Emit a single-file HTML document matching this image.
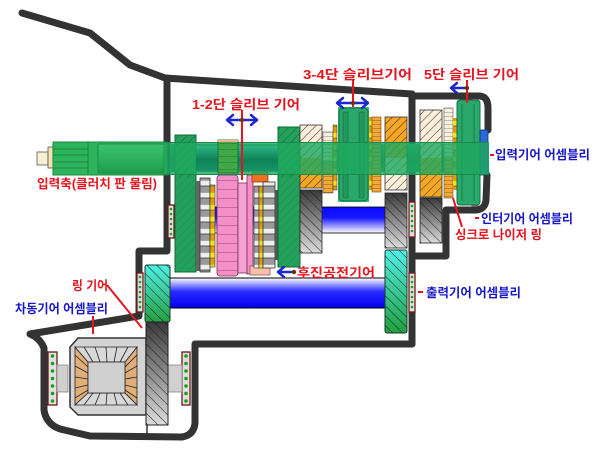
<!DOCTYPE html>
<html><head><meta charset="utf-8">
<style>
html,body{margin:0;padding:0;background:#fff;}
svg{display:block;}
text{font-family:"Liberation Sans","Noto Sans CJK KR",sans-serif;font-weight:bold;}
</style></head><body>
<svg width="612" height="452" viewBox="0 0 612 452" xmlns="http://www.w3.org/2000/svg">
<defs>
<pattern id="hF" patternUnits="userSpaceOnUse" width="6" height="6" patternTransform="rotate(45)"><line x1="0" y1="0" x2="0" y2="6" stroke="#3a2a10" stroke-width="1"/></pattern>
<pattern id="hFg" patternUnits="userSpaceOnUse" width="6" height="6" patternTransform="rotate(45)"><line x1="0" y1="0" x2="0" y2="6" stroke="#0f6a35" stroke-width="1"/></pattern>
<pattern id="hB" patternUnits="userSpaceOnUse" width="7" height="7" patternTransform="rotate(-45)"><line x1="0" y1="0" x2="0" y2="7" stroke="#1a1a1a" stroke-width="1"/></pattern>
<pattern id="stGW" patternUnits="userSpaceOnUse" width="20" height="12"><rect width="20" height="6" fill="#eeeeee"/><rect y="6" width="20" height="6" fill="#9a9a9a"/><line x1="0" y1="0" x2="20" y2="0" stroke="#333" stroke-width="0.8"/><line x1="0" y1="6" x2="20" y2="6" stroke="#333" stroke-width="0.8"/></pattern>
<pattern id="stYO" patternUnits="userSpaceOnUse" width="20" height="12"><rect width="20" height="6" fill="#f8e020"/><rect y="6" width="20" height="6" fill="#e09a10"/><line x1="0" y1="0" x2="20" y2="0" stroke="#333" stroke-width="0.6"/><line x1="0" y1="6" x2="20" y2="6" stroke="#333" stroke-width="0.6"/></pattern>
<pattern id="stC" patternUnits="userSpaceOnUse" width="20" height="4"><rect width="20" height="4" fill="#fbf0dc"/><line x1="0" y1="0" x2="20" y2="0" stroke="#666" stroke-width="0.7"/></pattern>
<pattern id="stO" patternUnits="userSpaceOnUse" width="20" height="4"><rect width="20" height="4" fill="#f4a838"/><line x1="0" y1="0" x2="20" y2="0" stroke="#6a4010" stroke-width="0.7"/></pattern>
<pattern id="stPk" patternUnits="userSpaceOnUse" width="20" height="9"><rect width="20" height="9" fill="#f490c8"/><line x1="0" y1="0" x2="20" y2="0" stroke="#7a2a5a" stroke-width="0.8"/></pattern>
<pattern id="stGr" patternUnits="userSpaceOnUse" width="20" height="6.5"><rect width="20" height="6.5" fill="#40a848"/><line x1="0" y1="0" x2="20" y2="0" stroke="#1a6a2a" stroke-width="0.8"/></pattern>
<linearGradient id="gGrey" x1="0" y1="0" x2="0" y2="1"><stop offset="0" stop-color="#3a3a3a"/><stop offset="1" stop-color="#dcdcdc"/></linearGradient>
<linearGradient id="gCyan" x1="0" y1="0" x2="0" y2="1"><stop offset="0" stop-color="#50f0e8"/><stop offset="1" stop-color="#22a040"/></linearGradient>
<linearGradient id="gBlueDown" x1="0" y1="0" x2="0" y2="1"><stop offset="0" stop-color="#0a0aff"/><stop offset="0.4" stop-color="#1515ff"/><stop offset="1" stop-color="#ffffff"/></linearGradient>
<linearGradient id="gBlueUp" x1="0" y1="0" x2="0" y2="1"><stop offset="0" stop-color="#ffffff"/><stop offset="0.45" stop-color="#2a2aff"/><stop offset="1" stop-color="#0000ee"/></linearGradient>
<linearGradient id="gShaft" x1="0" y1="0" x2="0" y2="1"><stop offset="0" stop-color="#2fb88a"/><stop offset="0.55" stop-color="#0b7a58"/><stop offset="1" stop-color="#17906a"/></linearGradient>
<linearGradient id="gLS" x1="0" y1="0" x2="0" y2="1"><stop offset="0" stop-color="#3cc070"/><stop offset="0.5" stop-color="#2db35c"/><stop offset="1" stop-color="#209a4a"/></linearGradient>
</defs>

<!-- countershafts -->
<rect x="196" y="207" width="189" height="26" fill="url(#gBlueDown)" stroke="#000" stroke-width="0.8"/>
<rect x="168" y="278" width="219" height="30" fill="url(#gBlueUp)" stroke="#000" stroke-width="1"/>

<!-- housing -->
<g fill="none" stroke="#333" stroke-width="7" stroke-linejoin="round" stroke-linecap="round">
<path d="M22,13 L90,33 L130,65 L165,78 L412,94"/>
<path d="M167,78 L167,251 L139,251 L139,316 L30,334 Q40,338 44,348 L44,410 Q46,424 60,429 L90,436 L182,437 Q194,435 195,423 L195,344 L412,344"/>
<path d="M412,94 L412,344"/>
<path d="M412,96 L479,96 Q488,96 488,108 L488,130"/>
<path d="M487,175 L486,200 Q485,210 475,210 L446,210 L446,256 L412,256"/>
</g>
<line x1="147" y1="425" x2="147" y2="440" stroke="#333" stroke-width="1.5"/>

<!-- inner shaft -->
<rect x="170" y="144" width="319" height="28" fill="url(#gShaft)"/>

<!-- left exterior shaft -->
<rect x="37" y="152" width="11" height="13" fill="#f8f0d0" stroke="#555" stroke-width="0.8"/>
<rect x="48" y="147" width="5" height="21" fill="#f4e0b0" stroke="#555" stroke-width="0.8"/>
<rect x="53" y="142" width="114" height="33" fill="#2db35c" stroke="#1a8a40" stroke-width="1"/>
<g stroke="#1a7a3a" stroke-width="0.8"><line x1="53" y1="149" x2="88" y2="149"/><line x1="53" y1="155" x2="88" y2="155"/><line x1="53" y1="162" x2="88" y2="162"/><line x1="53" y1="168" x2="88" y2="168"/><line x1="88" y1="142" x2="88" y2="175"/></g>
<rect x="98" y="144" width="66" height="29" fill="url(#gLS)" stroke="#1a8a40" stroke-width="0.8"/>

<!-- left cluster -->
<rect x="175" y="135" width="21" height="137" fill="#24a05c" stroke="#0e6a38" stroke-width="1"/>
<rect x="175" y="135" width="21" height="43" fill="url(#hFg)"/>
<rect x="175" y="178" width="21" height="94" fill="url(#hFg)" opacity="0.35"/>
<rect x="196" y="181" width="4" height="90" fill="#666"/>
<rect x="200" y="178" width="10" height="94" fill="url(#stGW)" stroke="#333" stroke-width="0.8"/>
<rect x="210" y="185" width="5" height="82" fill="url(#stYO)" stroke="#333" stroke-width="0.6"/>
<rect x="217" y="175" width="21" height="101" rx="3" fill="url(#stPk)" stroke="#7a2a5a" stroke-width="0.8"/>
<rect x="238" y="183" width="9" height="90" fill="#f4a2d2" stroke="#7a2a5a" stroke-width="0.8"/>
<rect x="247" y="175" width="6" height="99" fill="#f490c8" stroke="#7a2a5a" stroke-width="0.8"/>
<rect x="250" y="266" width="20" height="9" fill="#f8c0a8" stroke="#7a4a3a" stroke-width="0.7"/>
<rect x="252" y="172" width="16" height="10" fill="#f07020" stroke="#8a3a00" stroke-width="0.7"/>
<rect x="254" y="186" width="5" height="82" fill="url(#stGW)" stroke="#333" stroke-width="0.6"/>
<rect x="259" y="186" width="4" height="82" fill="url(#stYO)" stroke="#333" stroke-width="0.6"/>
<rect x="263" y="182" width="12" height="86" fill="url(#stGW)" stroke="#333" stroke-width="0.8"/>
<rect x="275" y="190" width="3" height="70" fill="#555"/>
<rect x="278" y="127" width="22" height="140" fill="#24a05c" stroke="#0e6a38" stroke-width="1"/>
<rect x="278" y="127" width="22" height="50" fill="url(#hFg)"/>
<rect x="278" y="177" width="22" height="90" fill="url(#hFg)" opacity="0.35"/>

<!-- middle -->
<rect x="300" y="125" width="22" height="33" fill="#fbeedd"/>
<rect x="300" y="158" width="22" height="30" fill="#f5a623"/>
<rect x="300" y="125" width="22" height="63" fill="url(#hF)" stroke="#333" stroke-width="0.8"/>
<rect x="300" y="190" width="22" height="63" fill="url(#gGrey)" stroke="#222" stroke-width="0.8"/>
<rect x="300" y="190" width="22" height="63" fill="url(#hB)"/>
<rect x="323" y="132" width="10" height="30" fill="url(#stC)" stroke="#555" stroke-width="0.6"/>
<rect x="323" y="162" width="10" height="31" fill="url(#stO)" stroke="#555" stroke-width="0.6"/>
<rect x="333" y="125" width="4" height="65" fill="url(#stYO)" stroke="#333" stroke-width="0.5"/>
<rect x="338" y="107" width="31" height="95" fill="#3cb878"/>
<rect x="339" y="108" width="29" height="93" rx="4" fill="#2aa86c" stroke="#137040" stroke-width="1"/>
<rect x="343" y="112" width="5" height="86" fill="#22985e" stroke="#137040" stroke-width="0.6"/>
<rect x="359" y="112" width="5" height="86" fill="#22985e" stroke="#137040" stroke-width="0.6"/>
<rect x="369" y="117" width="3" height="73" fill="url(#stYO)"/>
<rect x="372" y="117" width="9" height="75" fill="url(#stO)" stroke="#6a4010" stroke-width="0.6"/>
<rect x="385" y="117" width="22" height="41" fill="#f5a623"/>
<rect x="385" y="158" width="22" height="32" fill="#fbeedd"/>
<rect x="385" y="117" width="22" height="73" fill="url(#hF)" stroke="#333" stroke-width="0.8"/>
<rect x="385" y="193" width="22" height="55" fill="url(#gGrey)" stroke="#222" stroke-width="0.8"/>
<rect x="385" y="193" width="22" height="55" fill="url(#hB)"/>
<rect x="385" y="250" width="22" height="83" rx="2" fill="url(#gCyan)" stroke="#1a3a2a" stroke-width="1"/>
<rect x="385" y="250" width="22" height="83" fill="url(#hB)"/>
<rect x="145" y="265" width="25" height="57" rx="2" fill="url(#gCyan)" stroke="#1a3a2a" stroke-width="1"/>
<rect x="145" y="265" width="25" height="57" fill="url(#hB)"/>

<!-- right box -->
<rect x="420" y="110" width="22" height="48" fill="#fbeedd"/>
<rect x="420" y="158" width="22" height="39" fill="#f5a623"/>
<rect x="420" y="110" width="22" height="87" fill="url(#hF)" stroke="#333" stroke-width="0.8"/>
<rect x="420" y="198" width="22" height="45" fill="url(#gGrey)" stroke="#222" stroke-width="0.8"/>
<rect x="420" y="198" width="22" height="45" fill="url(#hB)"/>
<rect x="444" y="108" width="9" height="50" fill="url(#stC)" stroke="#555" stroke-width="0.6"/>
<rect x="444" y="158" width="9" height="40" fill="url(#stO)" stroke="#555" stroke-width="0.6"/>
<rect x="453" y="118" width="4" height="72" fill="url(#stYO)"/>
<rect x="472" y="99" width="6" height="5" fill="#f4a2d2" stroke="#7a2a5a" stroke-width="0.6"/>
<rect x="472" y="201" width="6" height="5" fill="#f4a2d2" stroke="#7a2a5a" stroke-width="0.6"/>
<rect x="457" y="100" width="23" height="105" rx="3" fill="#2aa86c" stroke="#137040" stroke-width="1"/>
<line x1="462" y1="104" x2="462" y2="201" stroke="#137040" stroke-width="0.8"/>
<line x1="474" y1="104" x2="474" y2="201" stroke="#137040" stroke-width="0.8"/>
<rect x="480" y="130" width="8" height="45" fill="#2a6ad8" stroke="#103080" stroke-width="0.8"/>

<!-- translucent shaft band -->
<rect x="164" y="142" width="325" height="33" fill="rgb(30,168,95)" fill-opacity="0.82"/>
<rect x="196" y="146" width="22" height="25" fill="url(#gShaft)" opacity="0.8"/>
<rect x="238" y="146" width="40" height="25" fill="url(#gShaft)" opacity="0.8"/>
<line x1="164" y1="142.5" x2="489" y2="142.5" stroke="#1a8a4a" stroke-width="1"/>
<line x1="164" y1="174.5" x2="489" y2="174.5" stroke="#1a8a4a" stroke-width="1"/>
<rect x="218" y="140" width="20" height="33" fill="url(#stGr)" stroke="#1a6a2a" stroke-width="0.8"/>
<rect x="218" y="140" width="20" height="2" fill="#f0b090"/>

<!-- bearings -->
<g stroke="#701818" stroke-width="1.3" fill="#e0e0e0">
<rect x="168" y="205" width="6" height="33"/>
<rect x="409" y="202" width="6" height="35"/>
<rect x="137" y="273" width="6" height="39"/>
<rect x="409" y="273" width="6" height="39"/>
<rect x="48" y="352" width="9" height="53"/>
<rect x="182" y="352" width="8" height="53"/>
</g>
<g fill="#18a018">
<circle cx="171" cy="209" r="1.3"/><circle cx="171" cy="214" r="1.3"/><circle cx="171" cy="219" r="1.3"/><circle cx="171" cy="224" r="1.3"/><circle cx="171" cy="229" r="1.3"/><circle cx="171" cy="234" r="1.3"/>
<circle cx="412" cy="206" r="1.3"/><circle cx="412" cy="211" r="1.3"/><circle cx="412" cy="216" r="1.3"/><circle cx="412" cy="221" r="1.3"/><circle cx="412" cy="226" r="1.3"/><circle cx="412" cy="231" r="1.3"/>
<circle cx="140" cy="277" r="1.3"/><circle cx="140" cy="282" r="1.3"/><circle cx="140" cy="287" r="1.3"/><circle cx="140" cy="292" r="1.3"/><circle cx="140" cy="297" r="1.3"/><circle cx="140" cy="302" r="1.3"/><circle cx="140" cy="307" r="1.3"/>
<circle cx="412" cy="277" r="1.3"/><circle cx="412" cy="282" r="1.3"/><circle cx="412" cy="287" r="1.3"/><circle cx="412" cy="292" r="1.3"/><circle cx="412" cy="297" r="1.3"/><circle cx="412" cy="302" r="1.3"/><circle cx="412" cy="307" r="1.3"/>
<circle cx="52.5" cy="356" r="1.8"/><circle cx="52.5" cy="363.5" r="1.8"/><circle cx="52.5" cy="371" r="1.8"/><circle cx="52.5" cy="378.5" r="1.8"/><circle cx="52.5" cy="386" r="1.8"/><circle cx="52.5" cy="393.5" r="1.8"/><circle cx="52.5" cy="401" r="1.8"/>
<circle cx="186" cy="356" r="1.8"/><circle cx="186" cy="363.5" r="1.8"/><circle cx="186" cy="371" r="1.8"/><circle cx="186" cy="378.5" r="1.8"/><circle cx="186" cy="386" r="1.8"/><circle cx="186" cy="393.5" r="1.8"/><circle cx="186" cy="401" r="1.8"/>
</g>

<!-- differential -->
<rect x="57" y="365" width="11" height="27" fill="#d0d0d0" stroke="#888" stroke-width="0.8"/>
<rect x="168" y="365" width="14" height="27" fill="#d0d0d0" stroke="#888" stroke-width="0.8"/>
<polygon points="70,347 78,338 146,338 146,415 78,415 70,407" fill="#d4d4d4" stroke="#333" stroke-width="1.5"/>
<polygon points="75,347 88,362 88,393 75,405" fill="#e0ae78" stroke="#222" stroke-width="0.8"/>
<polygon points="137,347 125,362 125,393 137,405" fill="#e0ae78" stroke="#222" stroke-width="0.8"/>
<polygon points="75,347 137,347 125,362 88,362" fill="#d8d8d8" stroke="#222" stroke-width="0.8"/>
<polygon points="75,405 137,405 125,393 88,393" fill="#d8d8d8" stroke="#222" stroke-width="0.8"/>
<rect x="88" y="362" width="37" height="31" fill="#d0d0d0" stroke="#222" stroke-width="0.8"/>
<g stroke="#222" stroke-width="0.8">
<line x1="88" y1="367" x2="75" y2="355"/><line x1="88" y1="373" x2="75" y2="366"/><line x1="88" y1="379" x2="75" y2="377"/><line x1="88" y1="385" x2="75" y2="388"/><line x1="88" y1="390" x2="75" y2="398"/>
<line x1="125" y1="367" x2="137" y2="355"/><line x1="125" y1="373" x2="137" y2="366"/><line x1="125" y1="379" x2="137" y2="377"/><line x1="125" y1="385" x2="137" y2="388"/><line x1="125" y1="390" x2="137" y2="398"/>
<line x1="93" y1="362" x2="84" y2="347"/><line x1="100" y1="362" x2="95" y2="347"/><line x1="107" y1="362" x2="106" y2="347"/><line x1="114" y1="362" x2="117" y2="347"/><line x1="120" y1="362" x2="128" y2="347"/>
<line x1="93" y1="393" x2="84" y2="405"/><line x1="100" y1="393" x2="95" y2="405"/><line x1="107" y1="393" x2="106" y2="405"/><line x1="114" y1="393" x2="117" y2="405"/><line x1="120" y1="393" x2="128" y2="405"/>
</g>
<rect x="146" y="322" width="22" height="103" fill="url(#gGrey)" stroke="#222" stroke-width="1"/>
<rect x="146" y="322" width="22" height="103" fill="url(#hB)"/>

<!-- pointer lines -->
<g stroke="#e5141e" stroke-width="2" fill="none">
<line x1="242" y1="110" x2="242" y2="180"/>
<line x1="353" y1="80" x2="353" y2="107"/>
<line x1="467" y1="80" x2="467" y2="103"/>
<line x1="453" y1="198" x2="462" y2="227"/>
<line x1="107" y1="285" x2="142" y2="328"/>
<line x1="93" y1="316" x2="93" y2="334"/>
<line x1="490" y1="155" x2="494" y2="155"/>
<line x1="475" y1="218" x2="479" y2="218"/>
<line x1="418" y1="292" x2="423" y2="292"/>
</g>

<!-- arrows -->
<g stroke="#1a28d0" stroke-width="2.5" fill="none" stroke-linecap="round" stroke-linejoin="round">
<line x1="228" y1="120" x2="256" y2="120"/><polyline points="233,115 227,120 233,125"/><polyline points="251,115 257,120 251,125"/>
<line x1="338" y1="103" x2="367" y2="103"/><polyline points="343,98 337,103 343,108"/><polyline points="362,98 368,103 362,108"/>
<line x1="452" y1="88" x2="466" y2="88"/><polyline points="457,83 451,88 457,93"/>
<line x1="279" y1="272" x2="293" y2="272"/><polyline points="284,267 278,272 284,277"/>
</g>
<g fill="#7a2a00">
<circle cx="242" cy="120" r="2.2"/><circle cx="353" cy="103" r="2.2"/><circle cx="467" cy="88" r="2.2"/><circle cx="294" cy="272" r="2.2"/>
</g>

<!-- labels -->
<g font-size="13" fill="#e5141e">
<text x="192" y="109" textLength="108" lengthAdjust="spacingAndGlyphs">1-2단  슬리브 기어</text>
<text x="303" y="79" textLength="109" lengthAdjust="spacingAndGlyphs">3-4단 슬리브기어</text>
<text x="424" y="79" textLength="95" lengthAdjust="spacingAndGlyphs">5단 슬리브 기어</text>
</g>
<g font-size="12.5">
<text x="37" y="188" fill="#e5141e" textLength="120" lengthAdjust="spacingAndGlyphs">입력축(클러치 판 물림)</text>
<text x="495" y="159" fill="#1818c8" textLength="95" lengthAdjust="spacingAndGlyphs">입력기어 어셈블리</text>
<text x="481" y="223" fill="#1818c8" textLength="92" lengthAdjust="spacingAndGlyphs">인터기어 어셈블리</text>
<text x="455" y="239" fill="#e5141e" textLength="87" lengthAdjust="spacingAndGlyphs">싱크로 나이저 링</text>
<text x="297" y="277" fill="#e5141e" textLength="78" lengthAdjust="spacingAndGlyphs">후진공전기어</text>
<text x="426" y="297" fill="#1818c8" textLength="95" lengthAdjust="spacingAndGlyphs">출력기어 어셈블리</text>
<text x="72" y="290" fill="#e5141e" textLength="36" lengthAdjust="spacingAndGlyphs">링 기어</text>
<text x="15" y="313" fill="#1818c8" textLength="93" lengthAdjust="spacingAndGlyphs">차동기어 어셈블리</text>
</g>
</svg>
</body></html>
